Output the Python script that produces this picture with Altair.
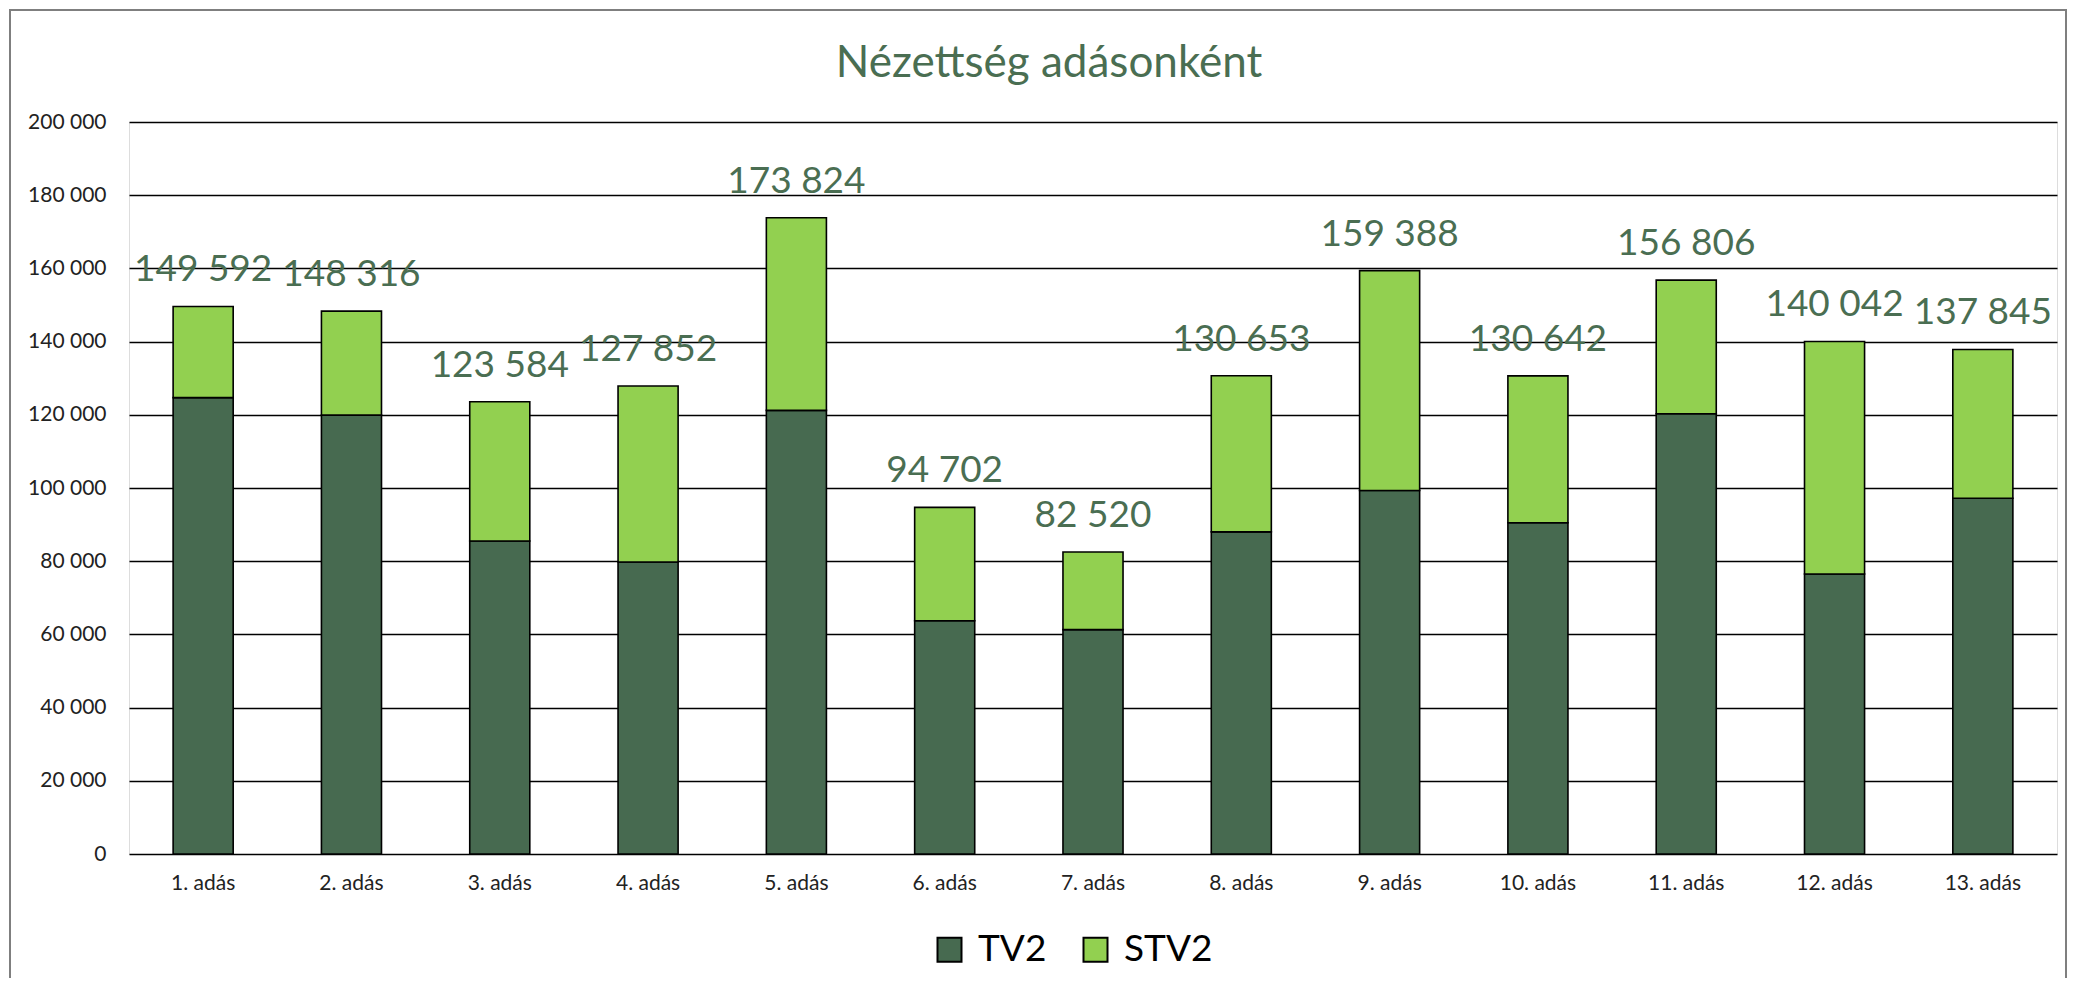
import altair as alt
import pandas as pd

categories = [f"{i}. adás" for i in range(1, 14)]
tv2 = [124700, 119900, 85500, 79800, 121200, 63750, 61300, 88000, 99300, 90500, 120300, 76500, 97200]
totals = [149592, 148316, 123584, 127852, 173824, 94702, 82520, 130653, 159388, 130642, 156806, 140042, 137845]
stv2 = [t - a for t, a in zip(totals, tv2)]
series = ["TV2", "STV2"]
colors = ["#476A50", "#92D050"]

rows = []
for c, a, b in zip(categories, tv2, stv2):
    rows.append({"adas": c, "csatorna": "TV2", "ertek": a, "ord": 0})
    rows.append({"adas": c, "csatorna": "STV2", "ertek": b, "ord": 1})
df = pd.DataFrame(rows)
lab = pd.DataFrame({"adas": categories, "total": totals,
                    "label": [f"{t:,}".replace(",", " ") for t in totals]})

FONT = "Lato"
GREEN_TXT = "#4A6E52"

x_enc = alt.X("adas:N", sort=categories, title=None,
              scale=alt.Scale(paddingInner=0.595, paddingOuter=0.2975),
              axis=alt.Axis(labelAngle=0, ticks=False, domain=False, grid=False,
                            labelFont=FONT, labelFontSize=21, labelColor="#222222",
                            labelPadding=18))
y_scale = alt.Scale(domain=[0, 200000], nice=False)

bars = alt.Chart(df).mark_bar(stroke="black", strokeWidth=1.6).encode(
    x=x_enc,
    y=alt.Y("ertek:Q", stack="zero", scale=y_scale, title=None,
            axis=alt.Axis(values=list(range(0, 200001, 20000)), ticks=False, tickSize=0,
                          domain=False, grid=True, gridColor="black", gridWidth=1.6,
                          labelExpr="replace(format(datum.value, ','), ',', ' ')",
                          labelFont=FONT, labelFontSize=21, labelColor="#222222",
                          labelPadding=23)),
    color=alt.Color("csatorna:N", scale=alt.Scale(domain=series, range=colors),
                    sort=series,
                    legend=alt.Legend(title=None, orient="none", direction="horizontal",
                                      legendX=802, legendY=809, padding=0,
                                      symbolType="square", symbolSize=576,
                                      symbolStrokeColor="black", symbolStrokeWidth=2,
                                      labelFont=FONT, labelFontSize=37, labelColor="black",
                                      labelOffset=10, columnPadding=30)),
    order=alt.Order("ord:Q", sort="ascending"),
)

labels = alt.Chart(lab).mark_text(font=FONT, fontSize=37, color=GREEN_TXT,
                                  baseline="middle", dy=-36).encode(
    x=alt.X("adas:N", sort=categories),
    y=alt.Y("total:Q", scale=y_scale),
    text="label:N",
)

border = alt.Chart(pd.DataFrame({"a": [0]})).mark_rect(
    fillOpacity=0, stroke="#7F7F7F", strokeWidth=2).encode(
    x=alt.value(-119), x2=alt.value(1937), y=alt.value(-112), y2=alt.value(900))

chart = alt.layer(border, bars, labels).properties(
    width=1928, height=732,
    title=alt.Title("Nézettség adásonként", font=FONT, fontSize=44, fontWeight="normal",
                    color=GREEN_TXT, anchor="middle", frame="group",
                    baseline="alphabetic", offset=-112, dx=-44),
    autosize=alt.AutoSizeParams(type="none"),
    padding={"left": 121, "top": 114, "right": 10, "bottom": 124},
).configure_view(stroke=None).configure(background="white")

chart.save("out.html", embed_options={"renderer": "svg", "actions": False})
